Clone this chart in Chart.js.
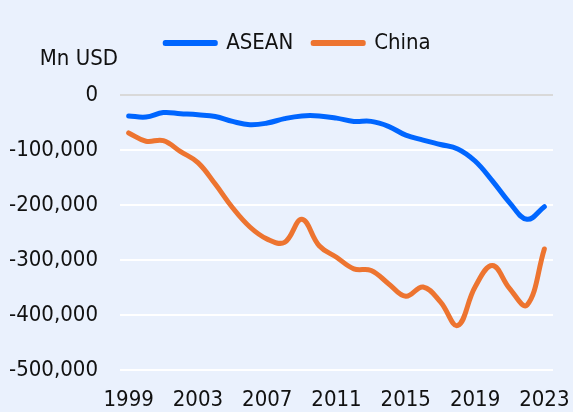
<!DOCTYPE html>
<html>
<head>
<meta charset="utf-8">
<script src="https://cdn.jsdelivr.net/npm/chart.js@4.4.1/dist/chart.umd.min.js"></script>
<style>
  html, body { margin: 0; padding: 0; background: #eaf1fd; }
  #wrap { width: 573px; height: 412px; position: relative; }
</style>
</head>
<body>
<div id="wrap"><canvas id="tradeChart"></canvas></div>
<script>
var years = ["1999", "2000", "2001", "2002", "2003", "2004", "2005", "2006", "2007", "2008",
    "2009", "2010", "2011", "2012", "2013", "2014", "2015", "2016", "2017", "2018",
    "2019", "2020", "2021", "2022", "2023"];
var asean = [-38000, -40000, -32000, -34000, -36000, -39000, -48000, -54000, -51000, -43000,
    -38000, -38000, -42000, -48000, -48000, -57000, -73000, -82000, -90000, -98000,
    -120000, -156000, -196000, -226000, -203000];
var china = [-69000, -84000, -83000, -103000, -123000, -162000, -205000, -240000, -262000, -268000,
    -226000, -274000, -295000, -316000, -319000, -343000, -366000, -349000, -376000, -419000,
    -349000, -310000, -352000, -382000, -280000];
var yTicks = { min: -500000, max: 0, step: 100000 };

var fontFamily = "'DejaVu Sans Condensed', 'DejaVu Sans', sans-serif";
var textColor = "#111111";

// legend a bit taller (room for the unit label) and nudged right,
// plus the horizontal "Mn USD" label above the 0 tick
var layoutTweaks = {
    id: 'layoutTweaks',
    afterInit: function (chart) {
        var legend = chart.legend;
        var origFit = legend.fit;
        legend.fit = function () {
            origFit.call(this);
            this.height += 31;
        };
    },
    afterLayout: function (chart) {
        chart.legend.left += 8;
        chart.legend.right += 8;
    },
    afterDraw: function (chart) {
        var ctx = chart.ctx;
        ctx.save();
        ctx.font = "22px " + fontFamily;
        ctx.fillStyle = textColor;
        ctx.textAlign = "right";
        ctx.textBaseline = "middle";
        ctx.fillText("Mn USD", chart.chartArea.left - 2, 59);
        ctx.restore();
    }
};

var tradeChart = new Chart(document.getElementById("tradeChart"), {
    type: 'line',
    data: {
        labels: years,
        datasets: [{
            label: "ASEAN",
            data: asean,
            borderColor: "#0066ff",
            backgroundColor: "#0066ff",
            borderWidth: 5,
            borderCapStyle: 'round',
            borderJoinStyle: 'round',
            pointRadius: 0,
            tension: 0.4
        }, {
            label: "China",
            data: china,
            borderColor: "#ed7430",
            backgroundColor: "#ed7430",
            borderWidth: 5,
            borderCapStyle: 'round',
            borderJoinStyle: 'round',
            pointRadius: 0,
            tension: 0.4
        }]
    },
    options: {
        responsive: true,
        maintainAspectRatio: false,
        animation: false,
        layout: {
            padding: { top: 12, right: 0, left: 7, bottom: 0 }
        },
        plugins: {
            legend: {
                position: 'top',
                labels: {
                    font: { family: fontFamily, size: 22 },
                    color: textColor,
                    boxWidth: 50,
                    boxHeight: 1,
                    padding: 20
                }
            },
            tooltip: { enabled: false }
        },
        scales: {
            x: {
                offset: true,
                grid: { display: false },
                border: { display: false },
                afterFit: function (scale) {
                    scale.height = 42;
                    scale.paddingLeft = 0;
                    scale.paddingRight = 20;
                },
                ticks: {
                    autoSkip: false,
                    maxRotation: 0,
                    padding: 9,
                    color: textColor,
                    font: { family: fontFamily, size: 22 },
                    callback: function (value, index) {
                        return index % 4 === 0 ? years[index] : null;
                    }
                }
            },
            y: {
                min: yTicks.min,
                max: yTicks.max,
                border: { display: false },
                afterFit: function (scale) {
                    scale.width = 113;
                },
                grid: {
                    drawTicks: false,
                    lineWidth: 2,
                    color: function (c) {
                        return c.tick && c.tick.value === 0 ? "#d9d9d9" : "#ffffff";
                    }
                },
                ticks: {
                    stepSize: yTicks.step,
                    padding: 22,
                    color: textColor,
                    font: { family: fontFamily, size: 22 }
                }
            }
        }
    },
    plugins: [layoutTweaks]
});
</script>
</body>
</html>
